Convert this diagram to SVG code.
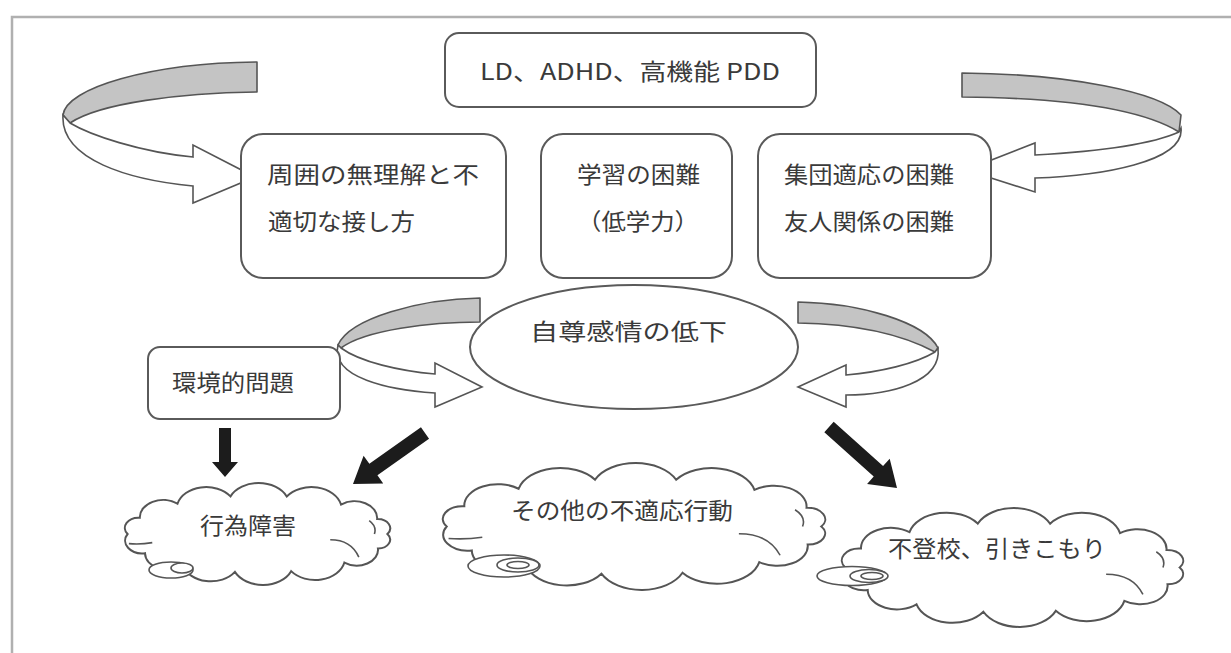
<svg xmlns="http://www.w3.org/2000/svg" xmlns:xlink="http://www.w3.org/1999/xlink" width="1231" height="653" viewBox="0 0 1231 653">
<style>
.frame{fill:none;stroke:#b0b0b0;stroke-width:2.5}
.box{fill:#fff;stroke:#5a5a5a;stroke-width:2}
.ribg{fill:#c4c4c4;stroke:#555;stroke-width:1.6;stroke-linejoin:round}
.ribw{fill:#fff;stroke:#555;stroke-width:1.6;stroke-linejoin:miter}
.blk{fill:#1c1c1c}
.cloud{fill:#fff;stroke:#555;stroke-width:2}
.cdet{fill:none;stroke:#555;stroke-width:1.6}
.tail{fill:#fff;stroke:#555;stroke-width:1.6}
.t{font-family:"Noto Sans CJK JP","Noto Sans CJK SC",sans-serif;font-size:23px;fill:#3a3a3a}
</style>
<defs>
<path id="cloudShape" class="cloud" vector-effect="non-scaling-stroke" d="M100,0 A9.2,9.2 0 0 1 92.7,15 A16.3,16.3 0 0 1 66.9,29.7 A23.1,23.1 0 0 1 25.9,38.6 A23.8,23.8 0 0 1 -17.4,39.4 A22.3,22.3 0 0 1 -57.4,32.8 A17.5,17.5 0 0 1 -86.6,20 A13.3,13.3 0 0 1 -100,0 A10.6,10.6 0 0 1 -90.6,-16.9 A17.9,17.9 0 0 1 -61.6,-31.5 A22.8,22.8 0 0 1 -20.8,-39.1 A23.8,23.8 0 0 1 22.5,-39 A23.4,23.4 0 0 1 64.3,-30.6 A17.4,17.4 0 0 1 92.1,-15.6 A9.6,9.6 0 0 1 100,0 Z"/>
<path id="cloudDetail" class="cdet" vector-effect="non-scaling-stroke" d="M56,6 Q72,6 78,24 M-99,10 Q-90,11 -81,9 M86,-14 Q92,-8 90,0"/>
</defs>

<rect x="0" y="0" width="1231" height="653" fill="#fff"/>
<path class="frame" d="M12,660 L12,17 L1240,17"/>

<g id="connectors">
  <!-- top-left ribbon arrow -->
  <path class="ribg" d="M257,62 L257,92 C180,93 100,103 70,123 L63,115 C66,88 150,63 257,62 Z"/>
  <path class="ribw" d="M70,123 C90,135 140,152 193,157 L193,145 L255,177 L193,203 L193,186 C130,180 60,160 63,115 Z"/>
  <!-- top-right ribbon arrow -->
  <path class="ribg" d="M962,73 C1070,74 1160,92 1181,115 L1179,132 C1140,108 1060,98 962,97 Z"/>
  <path class="ribw" d="M1179,132 C1150,145 1090,152 1035,155 L1035,143 L966,170 L1035,192 L1035,178 C1100,176 1185,162 1181,128 Z"/>
  <!-- middle-left ribbon arrow -->
  <path class="ribg" d="M480,298 L480,322 C430,322 365,330 341,348 L338,345 C350,318 420,299 480,298 Z"/>
  <path class="ribw" d="M341,348 C360,362 400,371 435,374 L435,363 L482,387 L435,407 L435,393 C390,390 330,378 338,345 Z"/>
  <!-- middle-right ribbon arrow -->
  <path class="ribg" d="M798,302 C860,303 925,322 938,348 L935,352 C905,336 860,324 798,323 Z"/>
  <path class="ribw" d="M935,352 C915,364 880,372 846,375 L846,365 L798,387 L846,407 L846,395 C890,395 942,382 938,348 Z"/>
  <!-- black arrows -->
  <polygon class="blk" points="219,428 231,428 231,462 238,462 225,477 212,462 219,462"/>
  <polygon class="blk" points="429.05,438.71 377.45,475.26 383.2,483.4 353,484 363.6,455.7 369.35,463.84 420.95,427.29"/>
  <polygon class="blk" points="824.33,432.21 873.73,476.51 867.1,483.95 897,488 889.7,458.65 883.07,466.09 833.67,421.79"/>
</g>

<g id="node-top">
  <rect class="box" x="445" y="33" width="371" height="74" rx="14"/>
  <text class="t" x="480" y="80" font-size="24" textLength="300" lengthAdjust="spacingAndGlyphs">LD、ADHD、高機能 PDD</text>
</g>

<g id="node-surroundings">
  <rect class="box" x="241" y="134" width="265" height="144" rx="22"/>
  <text class="t" x="267" y="183" textLength="212" lengthAdjust="spacingAndGlyphs">周囲の無理解と不</text>
  <text class="t" x="268" y="230" textLength="147" lengthAdjust="spacingAndGlyphs">適切な接し方</text>
</g>

<g id="node-learning">
  <rect class="box" x="541" y="134" width="191" height="144" rx="22"/>
  <text class="t" x="577" y="183" textLength="123" lengthAdjust="spacingAndGlyphs">学習の困難</text>
  <text class="t" x="577" y="230" textLength="122" lengthAdjust="spacingAndGlyphs">（低学力）</text>
</g>

<g id="node-group">
  <rect class="box" x="758" y="134" width="233" height="144" rx="22"/>
  <text class="t" x="784" y="183" textLength="170" lengthAdjust="spacingAndGlyphs">集団適応の困難</text>
  <text class="t" x="784" y="230" textLength="170" lengthAdjust="spacingAndGlyphs">友人関係の困難</text>
</g>

<g id="node-environment">
  <rect class="box" x="148" y="347" width="192" height="72" rx="12"/>
  <text class="t" x="172" y="391" textLength="122" lengthAdjust="spacingAndGlyphs">環境的問題</text>
</g>

<g id="node-selfesteem">
  <ellipse class="box" cx="634" cy="347" rx="164" ry="62"/>
  <text class="t" x="530" y="340" font-size="25" textLength="197" lengthAdjust="spacingAndGlyphs">自尊感情の低下</text>
</g>

<g id="node-conduct">
  <use xlink:href="#cloudShape" href="#cloudShape" transform="translate(257.5,534) scale(1.299,0.962)"/>
  <use xlink:href="#cloudDetail" href="#cloudDetail" transform="translate(257.5,534) scale(1.299,0.962)"/>
  <ellipse class="tail" cx="171" cy="570" rx="22" ry="8"/>
  <ellipse class="tail" cx="182" cy="568" rx="11" ry="5"/>
  <text class="t" x="200" y="534" font-size="22" textLength="96" lengthAdjust="spacingAndGlyphs">行為障害</text>
</g>

<g id="node-other">
  <use xlink:href="#cloudShape" href="#cloudShape" transform="translate(634,526.5) scale(1.873,1.198)"/>
  <use xlink:href="#cloudDetail" href="#cloudDetail" transform="translate(634,526.5) scale(1.873,1.198)"/>
  <ellipse class="tail" cx="504" cy="566" rx="36" ry="11"/>
  <ellipse class="tail" cx="518" cy="565" rx="21" ry="7"/>
  <ellipse class="tail" cx="518" cy="565" rx="11" ry="3.5"/>
  <text class="t" x="511" y="519" font-size="22" textLength="222" lengthAdjust="spacingAndGlyphs">その他の不適応行動</text>
</g>

<g id="node-truancy">
  <use xlink:href="#cloudShape" href="#cloudShape" transform="translate(1012.5,567.5) scale(1.672,1.123)"/>
  <use xlink:href="#cloudDetail" href="#cloudDetail" transform="translate(1012.5,567.5) scale(1.672,1.123)"/>
  <ellipse class="tail" cx="852" cy="576" rx="35" ry="9.5"/>
  <ellipse class="tail" cx="869" cy="576" rx="19" ry="6.5"/>
  <ellipse class="tail" cx="872" cy="576" rx="11" ry="3.5"/>
  <text class="t" x="888" y="557" font-size="22" textLength="218" lengthAdjust="spacingAndGlyphs">不登校、引きこもり</text>
</g>
</svg>
